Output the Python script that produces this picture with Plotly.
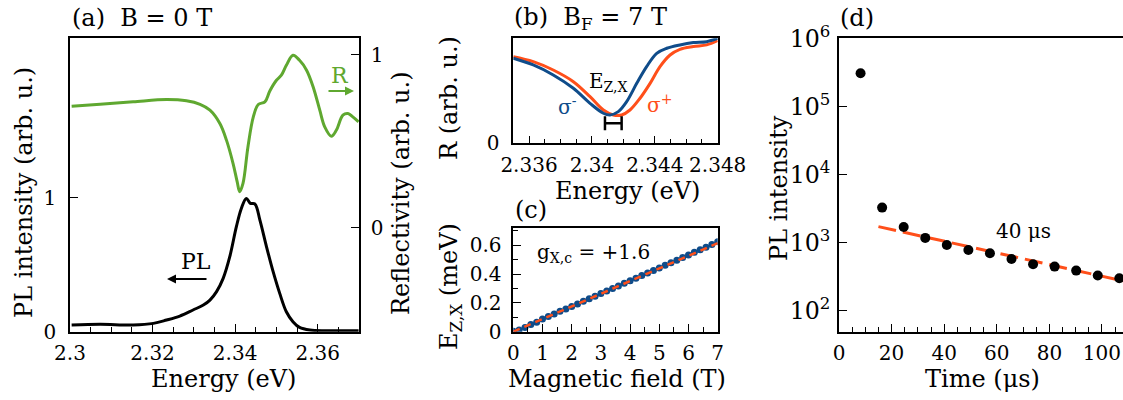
import plotly.graph_objects as go

# ---------------- data ----------------
# (a) reflectivity (right axis) and PL (left axis)
r_energy = [2.3004, 2.3073, 2.3153, 2.3234, 2.3282, 2.3315, 2.3339, 2.3363, 2.3379, 2.3395,
            2.3405, 2.3411, 2.3419, 2.3431, 2.3444, 2.3456, 2.3472, 2.3484, 2.3500, 2.3512,
            2.3524, 2.3540, 2.3556, 2.3573, 2.3589, 2.3605, 2.3617, 2.3633, 2.3645, 2.3661,
            2.3673, 2.3685, 2.3699]
r_value = [0.702, 0.713, 0.727, 0.740, 0.733, 0.713, 0.679, 0.602, 0.506, 0.371,
           0.265, 0.208, 0.256, 0.467, 0.640, 0.712, 0.727, 0.790, 0.852, 0.881,
           0.938, 0.996, 0.967, 0.910, 0.813, 0.679, 0.583, 0.529, 0.563, 0.650,
           0.660, 0.640, 0.612]

pl_energy = [2.3004, 2.3073, 2.3153, 2.3202, 2.3234, 2.3266, 2.3298, 2.3323, 2.3339, 2.3355,
             2.3371, 2.3387, 2.3403, 2.3415, 2.3427, 2.3437, 2.3448, 2.3460, 2.3476, 2.3492,
             2.3508, 2.3524, 2.3540, 2.3556, 2.3581, 2.3621, 2.3699]
pl_value = [0.050, 0.055, 0.050, 0.062, 0.087, 0.117, 0.162, 0.199, 0.236, 0.299,
            0.398, 0.560, 0.784, 0.920, 0.995, 0.958, 0.953, 0.833, 0.634, 0.448,
            0.286, 0.149, 0.075, 0.032, 0.012, 0.007, 0.007]

# (b) reflectivity in B_F = 7 T
b_energy = [2.3350, 2.33627, 2.33754, 2.33882, 2.33988, 2.34073, 2.34115, 2.34168, 2.34221,
            2.34285, 2.34348, 2.34412, 2.34476, 2.3456, 2.34645, 2.3473, 2.3480]
sigma_minus = [0.810, 0.746, 0.651, 0.524, 0.381, 0.286, 0.270, 0.302, 0.397,
               0.571, 0.730, 0.857, 0.905, 0.937, 0.959, 0.968, 1.000]
b_energy_p = [2.3350, 2.33627, 2.33754, 2.33882, 2.33988, 2.34073, 2.34136, 2.34189, 2.34242,
              2.34306, 2.3437, 2.34433, 2.34497, 2.3456, 2.34645, 2.3473, 2.3480]
sigma_plus = [0.825, 0.778, 0.698, 0.587, 0.444, 0.317, 0.270, 0.270, 0.317,
              0.429, 0.571, 0.730, 0.841, 0.895, 0.921, 0.937, 0.978]
ezx_bar_energy = [2.34083, 2.34189]
ezx_bar_level = [0.19, 0.19]

# (c) Zeeman splitting vs field
field = [0.0, 0.2, 0.4, 0.6, 0.8, 1.0, 1.2, 1.4, 1.6, 1.8, 2.0, 2.2, 2.4, 2.6, 2.8, 3.0, 3.2, 3.4,
         3.6, 3.8, 4.0, 4.2, 4.4, 4.6, 4.8, 5.0, 5.2, 5.4, 5.6, 5.8, 6.0, 6.2, 6.4, 6.6, 6.8, 7.0]
ezx = [0.003, 0.012, 0.030, 0.050, 0.066, 0.088, 0.106, 0.123, 0.142, 0.158, 0.175, 0.193,
       0.212, 0.228, 0.247, 0.265, 0.283, 0.300, 0.318, 0.336, 0.354, 0.372, 0.390, 0.408,
       0.425, 0.443, 0.461, 0.479, 0.497, 0.515, 0.533, 0.551, 0.569, 0.587, 0.606, 0.624]
fit_field = [0.0, 7.0]
fit_ezx = [0.0, 0.615]

# (d) PL decay
time_us = [8.2, 16.4, 24.6, 32.8, 41.0, 49.2, 57.4, 65.6, 73.8, 82.0, 90.2, 98.4, 106.6]
pl_decay = [306000, 3260, 1694, 1169, 922, 778, 697, 574, 480, 443, 387, 327, 299]
decay_fit_time = [15.0, 108.0]
decay_fit_val = [1714, 273]

# tick labels
a_ticks = [2.3, 2.32, 2.34, 2.36]
a_ticktext = ["2.3", "2.32", "2.34", "2.36"]
b_ticks = [2.336, 2.34, 2.344, 2.348]
b_ticktext = ["2.336", "2.34", "2.344", "2.348"]
c_yticks = [0, 0.2, 0.4, 0.6]
c_yticktext = ["0", "0.2", "0.4", "0.6"]
d_xticks = [0, 20, 40, 60, 80, 100]

# ---------------- style ----------------
GREEN = "#5fa830"
ORANGE = "#ff4f1a"
BLUE = "#0f4c8a"
FONT = "DejaVu Serif"
W, H = 1123, 400


def px(x):
    return x / W


def py(y):
    return (H - y) / H


fig = go.Figure()

# (a)
fig.add_trace(go.Scatter(x=r_energy, y=r_value, mode="lines", line=dict(color=GREEN, width=3),
                         xaxis="x", yaxis="y2", line_shape="spline"))
fig.add_trace(go.Scatter(x=pl_energy, y=pl_value, mode="lines", line=dict(color="black", width=3),
                         xaxis="x", yaxis="y", line_shape="spline"))
# (b)
fig.add_trace(go.Scatter(x=b_energy_p, y=sigma_plus, mode="lines", line=dict(color=ORANGE, width=3),
                         xaxis="x3", yaxis="y3", line_shape="spline"))
fig.add_trace(go.Scatter(x=b_energy, y=sigma_minus, mode="lines", line=dict(color=BLUE, width=3),
                         xaxis="x3", yaxis="y3", line_shape="spline"))
fig.add_trace(go.Scatter(x=ezx_bar_energy, y=ezx_bar_level, mode="lines+markers",
                         line=dict(color="black", width=2.5),
                         marker=dict(symbol="line-ns", size=10, line=dict(color="black", width=2.5)),
                         xaxis="x3", yaxis="y3"))
# (c)
fig.add_trace(go.Scatter(x=field, y=ezx, mode="markers",
                         marker=dict(color=BLUE, size=7), xaxis="x4", yaxis="y4"))
fig.add_trace(go.Scatter(x=fit_field, y=fit_ezx, mode="lines",
                         line=dict(color=ORANGE, width=2.5, dash="7px,5px"), xaxis="x4", yaxis="y4"))
# (d)
fig.add_trace(go.Scatter(x=decay_fit_time, y=decay_fit_val, mode="lines",
                         line=dict(color=ORANGE, width=3, dash="18px,7px"), xaxis="x5", yaxis="y5"))
fig.add_trace(go.Scatter(x=time_us, y=pl_decay, mode="markers",
                         marker=dict(color="black", size=10), xaxis="x5", yaxis="y5"))

axis_common = dict(showline=True, linecolor="black", linewidth=1.5, showgrid=False, zeroline=False,
                   ticks="inside", tickcolor="black", tickwidth=1.2, ticklen=8, automargin=False,
                   tickfont=dict(family=FONT, size=20, color="black"))

dom_a_x = [px(70), px(359)]
dom_bc_x = [px(513.3), px(717.7)]
dom_d_x = [px(839), 1.0]
dom_full_y = [py(331.7), py(38.3)]

fig.update_layout(
    width=W, height=H, margin=dict(l=0, r=0, t=0, b=0, autoexpand=False),
    paper_bgcolor="white", plot_bgcolor="white", showlegend=False,
    font=dict(family=FONT, size=20, color="black"),
    xaxis=dict(axis_common, domain=dom_a_x, anchor="y", range=[2.3, 2.37], mirror=True,
               tickmode="array", tickvals=a_ticks, ticktext=a_ticktext, ticklabelstandoff=3,
               minor=dict(ticks="inside", ticklen=5, tickcolor="black", dtick=0.005, tick0=2.3)),
    yaxis=dict(axis_common, domain=dom_full_y, anchor="x", range=[0, 2.19],
               tickmode="array", tickvals=[0, 1], ticktext=["0", "1"], ticklabelstandoff=8),
    yaxis2=dict(axis_common, overlaying="y", side="right", anchor="x", range=[-0.6, 1.094],
                tickmode="array", tickvals=[0, 1], ticktext=["0", "1"], ticklabelstandoff=6),
    xaxis3=dict(axis_common, domain=dom_bc_x, anchor="y3", range=[2.335, 2.348], mirror=True,
                tickmode="array", tickvals=b_ticks, ticktext=b_ticktext, ticklabelstandoff=3,
                minor=dict(ticks="inside", ticklen=5, tickcolor="black", dtick=0.001, tick0=2.335)),
    yaxis3=dict(axis_common, domain=[py(143.3), py(38.3)], anchor="x3", range=[0, 1.0], mirror=True,
                tickmode="array", tickvals=[0], ticktext=["0"], ticks="", ticklabelstandoff=8),
    xaxis4=dict(axis_common, domain=dom_bc_x, anchor="y4", range=[0, 7], mirror=True,
                tickmode="linear", dtick=1, tick0=0, ticklabelstandoff=3,
                minor=dict(ticks="inside", ticklen=5, tickcolor="black", dtick=0.5, tick0=0)),
    yaxis4=dict(axis_common, domain=[py(331.7), py(228.3)], anchor="x4", range=[0, 0.718], mirror=True,
                tickmode="array", tickvals=c_yticks, ticktext=c_yticktext, ticklabelstandoff=6,
                minor=dict(ticks="inside", ticklen=5, tickcolor="black", dtick=0.1, tick0=0)),
    xaxis5=dict(axis_common, domain=dom_d_x, anchor="y5", range=[0, 108], mirror=True,
                tickmode="array", tickvals=d_xticks, ticklabelstandoff=3,
                minor=dict(ticks="inside", ticklen=5, tickcolor="black", dtick=5, tick0=0)),
    yaxis5=dict(axis_common, domain=dom_full_y, anchor="x5", type="log", range=[1.69, 6],
                dtick=1, exponentformat="power", showexponent="all", ticklabelstandoff=3,
                tickfont=dict(family=FONT, size=19, color="black")),
)

TITLE = 24


def text(x, y, s, size=TITLE, color="black", angle=0, xanchor="center"):
    fig.add_annotation(x=px(x), y=py(y), xref="paper", yref="paper", text=s, showarrow=False,
                       font=dict(family=FONT, size=size, color=color), textangle=angle,
                       xanchor=xanchor, yanchor="middle")


# panel (a)
text(70, 18, "(a)  B = 0 T", xanchor="left")
text(223, 379, "Energy (eV)")
text(24, 193, "PL intensity (arb. u.)", angle=-90)
text(401, 193, "Reflectivity (arb. u.)", angle=-90)
text(340, 76, "R", color=GREEN, size=22)
text(196, 261, "PL", size=22)
fig.add_annotation(x=px(354), y=py(91), ax=-27, ay=0, xref="paper", yref="paper", text="",
                   showarrow=True, arrowhead=2, arrowsize=0.9, arrowwidth=2, arrowcolor=GREEN)
fig.add_annotation(x=px(167), y=py(279), ax=41, ay=0, xref="paper", yref="paper", text="",
                   showarrow=True, arrowhead=2, arrowsize=0.9, arrowwidth=2, arrowcolor="black")

# panel (b)
text(512, 18, "(b)  B<sub>F</sub> = 7 T", xanchor="left")
text(627, 191, "Energy (eV)")
text(449, 98, "R (arb. u.)", angle=-90)
text(608, 82, "E<sub>Z,X</sub>", size=20)
text(567, 106, "σ<sup>-</sup>", size=20, color=BLUE)
text(659, 104, "σ<sup>+</sup>", size=20, color=ORANGE)

# panel (c)
text(531, 210, "(c)")
text(535, 253, "g<sub>X,c</sub> = +1.6", size=20, xanchor="left")
text(450, 287, "E<sub>Z,X</sub> (meV)", angle=-90)
text(617, 379, "Magnetic field (T)")

# panel (d)
text(838, 18, "(d)", xanchor="left")
text(779, 188, "PL intensity", angle=-90)
text(982, 379, "Time (μs)")
text(1023, 231, "40 μs", size=20)

fig.write_html("out.html")
